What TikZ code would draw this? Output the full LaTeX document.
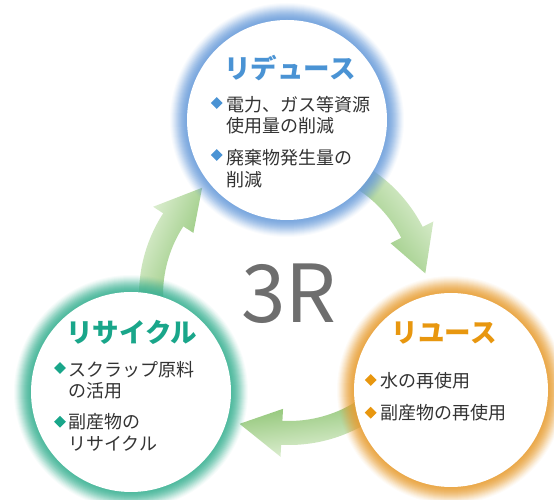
\documentclass[tikz,border=0pt]{standalone}
\usepackage{fontspec}
\setmainfont{Noto Sans CJK JP}
\usetikzlibrary{shapes.geometric}
\definecolor{ttlblue}{HTML}{4A93D4}
\definecolor{ttlteal}{HTML}{19A68A}
\definecolor{ttlorange}{HTML}{E8970F}
\definecolor{glowblue}{HTML}{6E9FDB}
\definecolor{glowteal}{HTML}{3FB395}
\definecolor{gloworange}{HTML}{E8A038}
\definecolor{txtgray}{HTML}{333333}
\definecolor{gray3r}{HTML}{6E6E6E}
\definecolor{arlight}{HTML}{E6F3DC}
\definecolor{armid}{HTML}{A9D690}
\definecolor{ardark}{HTML}{86C06A}
\newcommand{\glowdisc}[4]{%
  \foreach \k [evaluate=\k as \op using {0.03+0.011*(18-\k)}] in {17,16,...,1}{\fill[#4, opacity=\op] (#2) circle[radius=#3+\k];}
  \node[circle, fill=white, minimum size={(2*#3)*1pt}, inner sep=0pt] (#1) at (#2) {};
}
\newcommand{\greenarrow}[2]{%
  \begin{scope}[shift={(C)}]
    \shade[left color=arlight, middle color=armid, right color=ardark, shading angle=#2]
      (#1+38:150) arc[start angle=#1+38, end angle=#1, radius=150]
      -- (#1:162) -- (#1-18:138) -- (#1:114) -- (#1:126)
      arc[start angle=#1, end angle=#1+38, radius=126] -- cycle;
  \end{scope}
}
\begin{document}
\begin{tikzpicture}[x=1pt,y=1pt,
  txt/.style={anchor=west, inner sep=0pt, font=\fontsize{18}{20}\selectfont, text=txtgray, text height=15.8pt, text depth=2.2pt},
  ttl/.style={inner sep=0pt, font=\fontsize{26.5}{30}\selectfont\bfseries, text height=23.3pt, text depth=3.2pt},
  dia/.style={diamond, inner sep=0pt, minimum width=12pt, minimum height=12pt, fill=#1}]
\useasboundingbox (0,0) rectangle (554,500);
\coordinate (C) at (289,205);
% arrows
\greenarrow{27}{-53}
\greenarrow{-93}{-173}
\greenarrow{147}{67}
% circles
\glowdisc{reduce}{287,380}{100}{glowblue}
\glowdisc{recycle}{131,108}{100}{glowteal}
\glowdisc{reuse}{451,110}{97}{gloworange}
% 3R
\node[font=\fontsize{80}{82}\selectfont, text=gray3r, anchor=base, inner sep=0pt] (threeR) at (289,177) {3R};
% reduce
\node[ttl, text=ttlblue] (t1) at (290,432) {リデュース};
\node[dia=ttlblue] (d11) at (216.7,397) {};
\node[txt] (l11) at (226,395) {電力、ガス等資源};
\node[txt] (l12) at (226,374) {使用量の削減};
\node[dia=ttlblue] (d12) at (216.7,345) {};
\node[txt] (l13) at (226,342.5) {廃棄物発生量の};
\node[txt] (l14) at (226,320.5) {削減};
% recycle
\node[ttl, text=ttlteal] (t2) at (131.7,167.5) {リサイクル};
\node[dia=ttlteal] (d21) at (60,132) {};
\node[txt] (l21) at (68,130.5) {スクラップ原料};
\node[txt] (l22) at (68,109.5) {の活用};
\node[dia=ttlteal] (d22) at (60,78.3) {};
\node[txt] (l23) at (68,78.5) {副産物の};
\node[txt] (l24) at (68,56.5) {リサイクル};
% reuse
\node[ttl, text=ttlorange] (t3) at (444.2,167.5) {リユース};
\node[dia=ttlorange] (d31) at (370.7,120) {};
\node[txt] (l31) at (380,119.5) {水の再使用};
\node[dia=ttlorange] (d32) at (370.7,87.3) {};
\node[txt] (l32) at (380,87.5) {副産物の再使用};
\end{tikzpicture}
\end{document}
